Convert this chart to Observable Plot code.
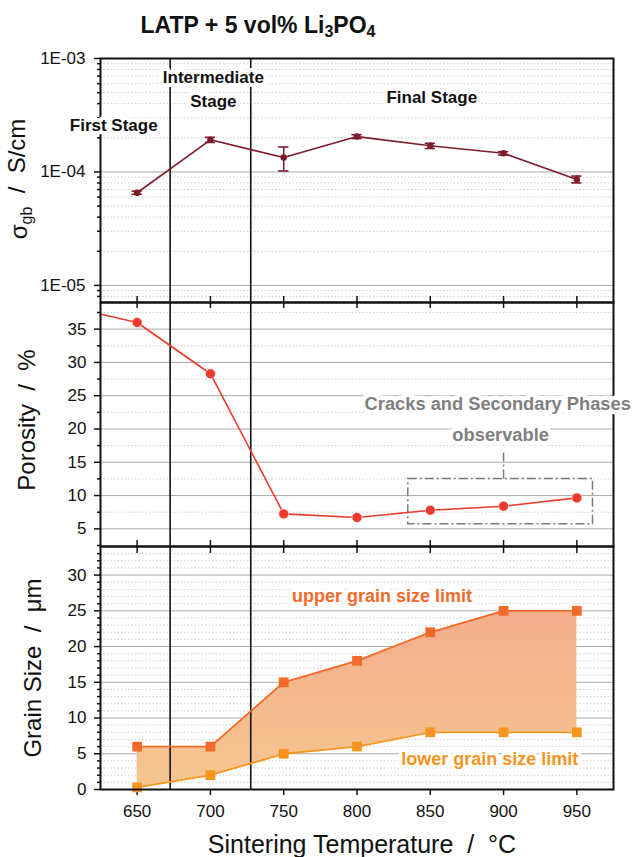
<!DOCTYPE html>
<html><head><meta charset="utf-8">
<script src="https://cdn.jsdelivr.net/npm/d3@7"></script>
<script src="https://cdn.jsdelivr.net/npm/@observablehq/plot@0.6"></script>
<style>
body{margin:0;background:#fff;font-family:"Liberation Sans",Arial,sans-serif;}
#wrap{position:relative;width:638px;height:857px;overflow:hidden;background:#fff;}
.panel{position:absolute;left:0;}
#title{position:absolute;left:0;width:516px;top:12px;text-align:center;font-weight:bold;font-size:23px;color:#111;line-height:26px;}
#title sub{font-size:16px;vertical-align:-4px;line-height:0;}
</style></head>
<body>
<div id="wrap">
  <div id="title">LATP + 5 vol% Li<sub>3</sub>PO<sub>4</sub></div>
  <div id="p1" class="panel" style="top:40px"></div>
  <div id="p2" class="panel" style="top:292px"></div>
  <div id="p3" class="panel" style="top:536px"></div>
</div>
<script>
// ---------- data ----------
const temps = [650, 700, 750, 800, 850, 900, 950];
const sigmaGB = [6.56e-5, 1.92e-4, 1.34e-4, 2.05e-4, 1.70e-4, 1.46e-4, 8.6e-5];
const sigmaErr = [0.2e-5, 1.0e-5, 3.2e-5, 0.8e-5, 0.9e-5, 0.5e-5, 0.6e-5];
const porosityTemps = [600, 650, 700, 750, 800, 850, 900, 950];
const porosity = [38.5, 36.0, 28.3, 7.25, 6.7, 7.8, 8.4, 9.65];
const grainUpper = [6, 6, 15, 18, 22, 25, 25];
const grainLower = [0.3, 2, 5, 6, 8, 8, 8];
const stageBounds = [672.5, 727.5];
const stageLabels = ["First Stage", "Intermediate\nStage", "Final Stage"];
const stageX = [634, 702, 851];
const stageY = [2.66e-4, 5.6e-4, 4.72e-4];
const sigmaTicks = [1e-5, 1e-4, 1e-3];
const sigmaTickLabels = ["1E-05", "1E-04", "1E-03"];
const logMultipliers = [2, 3, 4, 5, 6, 7, 8, 9];
const logDecades = [1e-6, 1e-5, 1e-4];
const porosityTicks = [5, 10, 15, 20, 25, 30, 35];
const porosityMinor = [2.5, 7.5, 12.5, 17.5, 22.5, 27.5, 32.5, 37.5];
const grainTicks = [0, 5, 10, 15, 20, 25, 30];
const grainMinor = [1,2,3,4,6,7,8,9,11,12,13,14,16,17,18,19,21,22,23,24,26,27,28,29,31,32,33];
const crackBoxX = [835, 961];
const crackBoxY = [5.7, 12.5];
const crackLeaderX = [900];
const crackLeaderY = [12.5, 16.4];
const crackText = ["Cracks and Secondary Phases", "observable"];
const crackTextX = [896, 898];
const crackTextY = [23.75, 19.1];
const grainText = ["upper grain size limit", "lower grain size limit"];
const grainTextX = [817, 890.5];
const grainTextY = [27.0, 4.2];

// ---------- tables ----------
const sigmaData = temps.map((T, i) => ({T, s: sigmaGB[i], e: sigmaErr[i]}));
const porData = porosityTemps.map((T, i) => ({T, p: porosity[i]}));
const grainData = temps.map((T, i) => ({T, hi: grainUpper[i], lo: grainLower[i]}));
const minorLog = logDecades.flatMap(d => logMultipliers.map(m => m * d)).filter(v => v > 7e-6 && v < 1e-3);
const stageData = stageLabels.map((t, i) => ({t, x: stageX[i], y: stageY[i]}));
const crackTextData = crackText.map((t, i) => ({t, x: crackTextX[i], y: crackTextY[i]}));
const grainTextData = grainText.map((t, i) => ({t, x: grainTextX[i], y: grainTextY[i]}));

const FONT = "Liberation Sans, Arial, sans-serif";
const X = {domain: [625, 975]};
const common = {width: 638, marginLeft: 100, marginRight: 25,
  style: {background: "none", overflow: "visible", fontFamily: FONT, fontSize: "17px", color: "#111"}};
const MAJ = {stroke: "#a9a9a9", strokeOpacity: 1, strokeWidth: 1};
const MIN = {stroke: "#cfcfcf", strokeOpacity: 1, strokeWidth: 1, strokeDasharray: "1.5,2"};
const blank = () => "";
const maroon = "#7d1d2b";
const red = "#ec3a2c";
const upperC = "#f26a2a";
const lowerC = "#f7941d";

// ---------- panel 1: conductivity ----------
const p1 = Plot.plot({
  ...common, height: 270, marginTop: 18, marginBottom: 8,
  x: X,
  y: {type: "log", domain: [7.07e-6, 1e-3]},
  marks: [
    Plot.gridY(minorLog, MIN),
    Plot.gridY(sigmaTicks, MAJ),
    Plot.axisY(minorLog, {tickSize: 3, tickFormat: blank, label: null, strokeWidth: 1.5}),
    Plot.axisY(sigmaTicks, {tickSize: 6, tickPadding: 9, tickFormat: d => sigmaTickLabels[sigmaTicks.indexOf(d)], label: null, strokeWidth: 1.5, fontSize: 17}),
    Plot.axisX(temps, {anchor: "bottom", tickSize: 6, tickFormat: blank, label: null, strokeWidth: 1.5}),
    Plot.ruleX(stageBounds, {stroke: "#111", strokeWidth: 1.6}),
    Plot.line(sigmaData, {x: "T", y: "s", stroke: maroon, strokeWidth: 1.6}),
    Plot.ruleX(sigmaData, {x: "T", y1: d => d.s - d.e, y2: d => d.s + d.e, stroke: maroon, strokeWidth: 1.6}),
    Plot.ruleY(sigmaData, {y: d => d.s + d.e, x1: d => d.T - 3.5, x2: d => d.T + 3.5, stroke: maroon, strokeWidth: 1.6}),
    Plot.ruleY(sigmaData, {y: d => d.s - d.e, x1: d => d.T - 3.5, x2: d => d.T + 3.5, stroke: maroon, strokeWidth: 1.6}),
    Plot.dot(sigmaData, {x: "T", y: "s", r: 2.5, fill: maroon, stroke: maroon}),
    Plot.frame({stroke: "#111", strokeWidth: 2}),
    Plot.text(stageData, {x: "x", y: "y", text: "t", fontSize: 17, fontWeight: "bold", fill: "#111",
      stroke: "white", strokeWidth: 8, lineHeight: 1.4})
  ]
});
document.getElementById("p1").append(p1);

// ---------- panel 2: porosity ----------
const p2 = Plot.plot({
  ...common, height: 264, marginTop: 10, marginBottom: 10,
  x: X,
  y: {domain: [2.35, 39]},
  marks: [
    Plot.gridY(porosityMinor, MIN),
    Plot.gridY(porosityTicks, MAJ),
    Plot.axisY(porosityMinor, {tickSize: 3, tickFormat: blank, label: null, strokeWidth: 1.5}),
    Plot.axisY(porosityTicks, {tickSize: 6, tickPadding: 8, label: null, strokeWidth: 1.5, fontSize: 17}),
    Plot.axisX(temps, {anchor: "top", tickSize: 7, tickFormat: blank, label: null, strokeWidth: 1.5}),
    Plot.axisX(temps, {anchor: "bottom", tickSize: 7, tickFormat: blank, label: null, strokeWidth: 1.5}),
    Plot.ruleX(stageBounds, {stroke: "#111", strokeWidth: 1.6}),
    Plot.rect([{x1: crackBoxX[0], x2: crackBoxX[1], y1: crackBoxY[0], y2: crackBoxY[1]}],
      {x1: "x1", x2: "x2", y1: "y1", y2: "y2", fill: "none", stroke: "#7a7a7a", strokeWidth: 1.5, strokeDasharray: "9,3,2,3"}),
    Plot.ruleX(crackLeaderX, {x: d => d, y1: crackLeaderY[0], y2: crackLeaderY[1], stroke: "#7a7a7a", strokeWidth: 1.5, strokeDasharray: "9,3,2,3"}),
    Plot.line(porData, {x: "T", y: "p", stroke: red, strokeWidth: 1.6, clip: true}),
    Plot.dot(porData, {x: "T", y: "p", r: 5, fill: red, stroke: "white", strokeWidth: 0.6, clip: true}),
    Plot.frame({stroke: "#111", strokeWidth: 2}),
    Plot.text(crackTextData, {x: "x", y: "y", text: "t", fontSize: 18.3, fontWeight: "bold", fill: "#7f7f7f",
      stroke: "white", strokeWidth: 9})
  ]
});
document.getElementById("p2").append(p2);

// ---------- panel 3: grain size ----------
const p3 = Plot.plot({
  ...common, height: 321, marginTop: 10, marginBottom: 68,
  x: X,
  y: {domain: [0, 34]},
  marks: [
    Plot.gridY(grainMinor, MIN),
    Plot.gridY(grainTicks, MAJ),
    Plot.axisY(grainMinor, {tickSize: 3, tickFormat: blank, label: null, strokeWidth: 1.5}),
    Plot.axisY(grainTicks, {tickSize: 6, tickPadding: 8, label: null, strokeWidth: 1.5, fontSize: 17}),
    Plot.axisX(temps, {anchor: "top", tickSize: 7, tickFormat: blank, label: null, strokeWidth: 1.5}),
    Plot.axisX(temps, {anchor: "bottom", tickSize: 6, tickPadding: 9, label: null, strokeWidth: 1.5, fontSize: 17}),
    Plot.areaY(grainData, {x: "T", y1: "lo", y2: "hi", fill: "url(#grainGrad)"}),
    Plot.ruleX(stageBounds, {stroke: "#111", strokeWidth: 1.6}),
    Plot.line(grainData, {x: "T", y: "hi", stroke: upperC, strokeWidth: 1.8}),
    Plot.line(grainData, {x: "T", y: "lo", stroke: lowerC, strokeWidth: 1.8}),
    Plot.dot(grainData, {x: "T", y: "hi", symbol: "square", r: 5.5, fill: upperC}),
    Plot.dot(grainData, {x: "T", y: "lo", symbol: "square", r: 5.5, fill: lowerC}),
    Plot.frame({stroke: "#111", strokeWidth: 2}),
    Plot.text(grainTextData, {x: "x", y: "y", text: "t", fontSize: 18, fontWeight: "bold",
      fill: (d, i) => i === 0 ? upperC : lowerC, stroke: "white", strokeWidth: 7})
  ]
});
document.getElementById("p3").append(p3);

// gradient for grain-size band
const defs = d3.select(p3).insert("defs", ":first-child");
const lg = defs.append("linearGradient").attr("id", "grainGrad").attr("x1", 0).attr("y1", 0).attr("x2", 0).attr("y2", 1);
lg.append("stop").attr("offset", "0%").attr("stop-color", "#f4ad8c");
lg.append("stop").attr("offset", "100%").attr("stop-color", "#f5c68f");

// ---------- axis titles ----------
function vLabel(svg, x, y, build) {
  const t = d3.select(svg).append("text")
    .attr("transform", `translate(${x},${y}) rotate(-90)`)
    .attr("text-anchor", "middle").attr("fill", "#111")
    .style("font-family", FONT).style("font-size", "24px").style("white-space", "pre");
  build(t);
}
vLabel(p1, 27, 139, t => {
  t.append("tspan").text("σ");
  t.append("tspan").attr("dy", "0.3em").style("font-size", "16px").text("gb");
  t.append("tspan").attr("dy", "-0.3em").text("  /  S/cm");
});
vLabel(p2, 35, 128, t => t.text("Porosity  /  %"));
vLabel(p3, 41, 132, t => t.text("Grain Size  /  μm"));
d3.select(p3).append("text")
  .attr("x", 362).attr("y", 317).attr("text-anchor", "middle").attr("fill", "#111")
  .style("font-family", FONT).style("font-size", "25px").style("white-space", "pre")
  .text("Sintering Temperature  /  °C");
</script>
</body></html>
